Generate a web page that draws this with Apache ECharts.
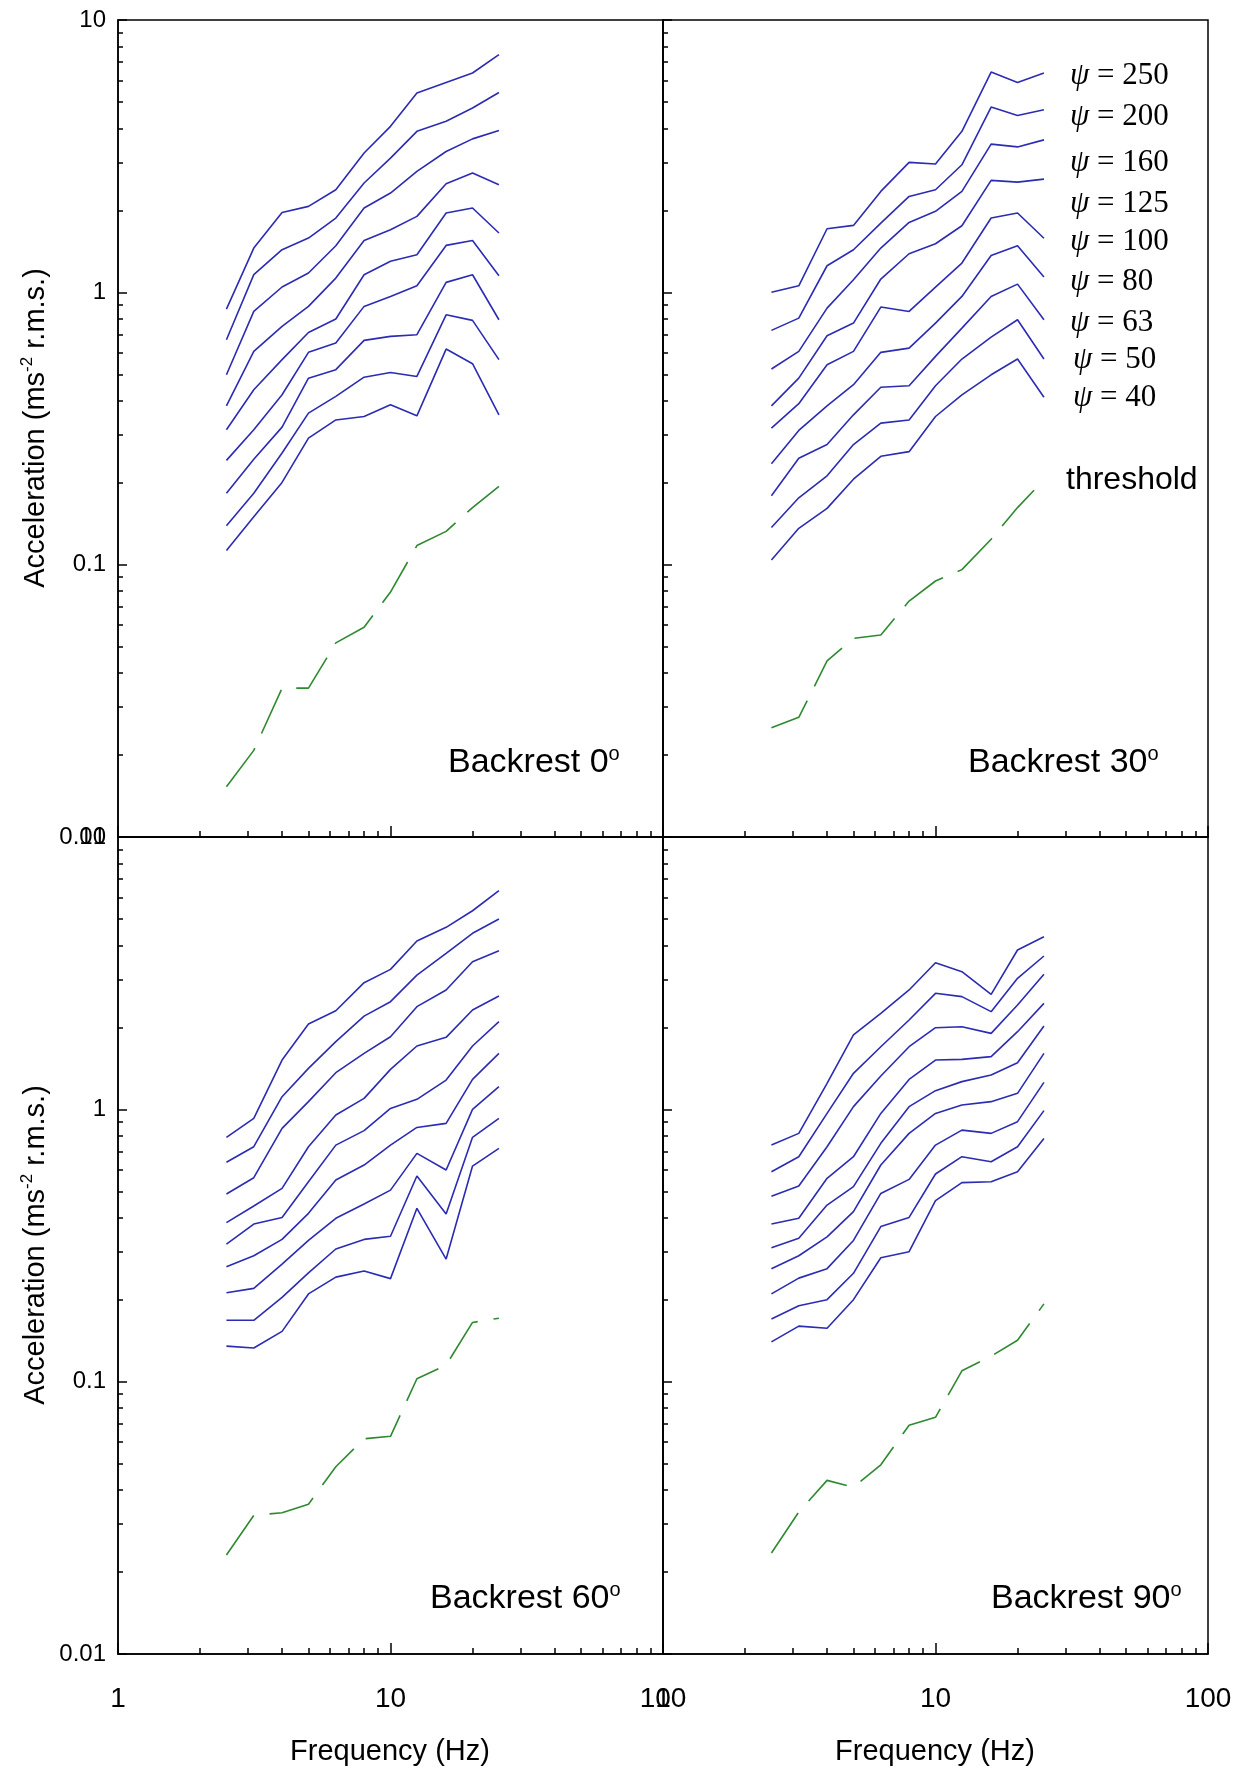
<!DOCTYPE html>
<html>
<head>
<meta charset="utf-8">
<script src="https://cdn.jsdelivr.net/npm/echarts@6/dist/echarts.min.js"></script>
<style>
  html, body { margin: 0; padding: 0; background: #ffffff; }
  #chart { width: 1249px; height: 1769px; }
</style>
</head>
<body>
<div id="chart"></div>
<script>
// One-third-octave centre frequencies (Hz)
const freqHz = [2.5, 3.15, 4, 5, 6.3, 8, 10, 12.5, 16, 20, 25];
// Equivalent-comfort contour levels, top curve first
const psiLevels = [250, 200, 160, 125, 100, 80, 63, 50, 40];

// Acceleration (m/s² r.m.s.) per contour, backrest 0°
const backrest0 = [
  [0.868, 1.454, 1.965, 2.068, 2.381, 3.248, 4.07, 5.39, 5.90, 6.39, 7.46],
  [0.670, 1.161, 1.434, 1.582, 1.874, 2.52, 3.11, 3.90, 4.25, 4.75, 5.42],
  [0.498, 0.851, 1.046, 1.177, 1.483, 2.04, 2.315, 2.78, 3.29, 3.66, 3.93],
  [0.383, 0.607, 0.750, 0.888, 1.128, 1.551, 1.698, 1.901, 2.506, 2.742, 2.485],
  [0.313, 0.439, 0.566, 0.712, 0.798, 1.16, 1.30, 1.374, 1.955, 2.04, 1.651],
  [0.2415, 0.313, 0.4205, 0.602, 0.651, 0.888, 0.966, 1.057, 1.487, 1.551, 1.151],
  [0.183, 0.244, 0.320, 0.484, 0.520, 0.666, 0.689, 0.699, 1.088, 1.16, 0.793],
  [0.139, 0.183, 0.257, 0.360, 0.415, 0.488, 0.508, 0.491, 0.827, 0.789, 0.566],
  [0.1128, 0.150, 0.2004, 0.2917, 0.340, 0.350, 0.3866, 0.352, 0.619, 0.547, 0.355]
];
// backrest 30°
const backrest30 = [
  [1.0, 1.057, 1.712, 1.761, 2.348, 3.0, 2.958, 3.90, 6.44, 5.90, 6.39],
  [0.725, 0.804, 1.252, 1.434, 1.796, 2.25, 2.38, 2.94, 4.79, 4.46, 4.68],
  [0.523, 0.607, 0.875, 1.112, 1.454, 1.806, 1.983, 2.348, 3.50, 3.42, 3.63],
  [0.383, 0.484, 0.693, 0.771, 1.119, 1.386, 1.508, 1.756, 2.576, 2.54, 2.605],
  [0.317, 0.390, 0.542, 0.607, 0.883, 0.851, 1.045, 1.281, 1.874, 1.955, 1.58],
  [0.2347, 0.311, 0.383, 0.458, 0.602, 0.624, 0.771, 0.966, 1.366, 1.483, 1.138],
  [0.179, 0.246, 0.276, 0.355, 0.448, 0.454, 0.582, 0.739, 0.966, 1.072, 0.793],
  [0.137, 0.176, 0.212, 0.276, 0.331, 0.340, 0.454, 0.569, 0.685, 0.793, 0.569],
  [0.104, 0.136, 0.161, 0.206, 0.250, 0.260, 0.350, 0.4205, 0.498, 0.569, 0.412]
];
// backrest 60°
const backrest60 = [
  [0.789, 0.927, 1.517, 2.057, 2.302, 2.918, 3.266, 4.15, 4.66, 5.36, 6.35],
  [0.639, 0.729, 1.113, 1.414, 1.772, 2.20, 2.485, 3.112, 3.74, 4.43, 5.0],
  [0.489, 0.561, 0.851, 1.067, 1.363, 1.605, 1.848, 2.382, 2.743, 3.485, 3.824],
  [0.3836, 0.4415, 0.5127, 0.729, 0.953, 1.097, 1.402, 1.708, 1.838, 2.316, 2.607],
  [0.32, 0.379, 0.401, 0.542, 0.739, 0.835, 1.008, 1.088, 1.281, 1.708, 2.098],
  [0.264, 0.29, 0.333, 0.415, 0.55, 0.6245, 0.739, 0.858, 0.888, 1.288, 1.605],
  [0.212, 0.22, 0.27, 0.33, 0.398, 0.449, 0.505, 0.689, 0.599, 1.0, 1.211],
  [0.168, 0.168, 0.204, 0.251, 0.307, 0.333, 0.342, 0.569, 0.4125, 0.789, 0.927],
  [0.135, 0.133, 0.153, 0.21, 0.242, 0.255, 0.239, 0.433, 0.282, 0.619, 0.719]
];
// backrest 90°
const backrest90 = [
  [0.739, 0.816, 1.246, 1.875, 2.252, 2.743, 3.455, 3.203, 2.645, 3.846, 4.305],
  [0.590, 0.670, 0.966, 1.356, 1.698, 2.128, 2.667, 2.593, 2.284, 3.027, 3.656],
  [0.480, 0.523, 0.729, 1.023, 1.325, 1.698, 1.994, 2.011, 1.901, 2.415, 3.131],
  [0.379, 0.398, 0.558, 0.670, 0.966, 1.288, 1.517, 1.526, 1.561, 1.928, 2.45],
  [0.31, 0.336, 0.445, 0.520, 0.750, 1.023, 1.171, 1.264, 1.337, 1.483, 2.023],
  [0.26, 0.29, 0.34, 0.421, 0.6245, 0.816, 0.966, 1.037, 1.067, 1.145, 1.605],
  [0.21, 0.24, 0.26, 0.33, 0.491, 0.553, 0.739, 0.839, 0.816, 0.901, 1.256],
  [0.17, 0.19, 0.20, 0.25, 0.371, 0.401, 0.579, 0.670, 0.642, 0.729, 0.989],
  [0.14, 0.16, 0.157, 0.20, 0.285, 0.30, 0.462, 0.538, 0.542, 0.590, 0.782]
];

// Perception thresholds per backrest angle
const threshold0 = [0.0153, 0.0208, 0.0352, 0.0352, 0.0516, 0.0589, 0.0793, 0.1175, 0.1325, 0.162, 0.1937];
const threshold30 = [0.0252, 0.0275, 0.0443, 0.0536, 0.0552, 0.0735, 0.0871, 0.0959, 0.124, 0.162, 0.205];
const threshold60 = [0.0231, 0.0323, 0.033, 0.0355, 0.0487, 0.0617, 0.063, 0.1025, 0.115, 0.165, 0.171];
const threshold90 = [0.0235, 0.0332, 0.0434, 0.041, 0.0495, 0.0692, 0.074, 0.1096, 0.124, 0.142, 0.193];

const backrestAngles = [0, 30, 60, 90];

// Tick positions on the logarithmic axes
const xMajorTicks = [1, 10, 100];
const xMinorTicks = [2, 3, 4, 5, 6, 7, 8, 9, 20, 30, 40, 50, 60, 70, 80, 90];
const yMajorTicks = [0.01, 0.1, 1, 10];
const yMinorTicks = [0.02, 0.03, 0.04, 0.05, 0.06, 0.07, 0.08, 0.09,
                     0.2, 0.3, 0.4, 0.5, 0.6, 0.7, 0.8, 0.9,
                     2, 3, 4, 5, 6, 7, 8, 9];

const panelContours = [backrest0, backrest30, backrest60, backrest90];
const panelThresholds = [threshold0, threshold30, threshold60, threshold90];

const SANS = "'Liberation Sans', Arial, Helvetica, sans-serif";
const SERIF = "'Liberation Serif', 'Times New Roman', serif";
const BLUE = '#2b2bb3';
const GREEN = '#2e8a2e';

const chart = echarts.init(document.getElementById('chart'), null, { renderer: 'canvas' });

const PANEL_W = 545, PANEL_H = 817;
const panelPos = [
  { left: 118, top: 20 }, { left: 663, top: 20 },
  { left: 118, top: 837 }, { left: 663, top: 837 }
];

const fmt = v => String(parseFloat(Number(v).toPrecision(6)));

const grid = panelPos.map(p => ({
  left: p.left, top: p.top, width: PANEL_W, height: PANEL_H,
  show: true, borderColor: '#000', borderWidth: 1.5, backgroundColor: 'transparent',
  containLabel: false, outerBoundsMode: 'none'
}));

// Each panel gets a major and a minor axis in both directions, all on the
// bottom / left edges, so ticks only point inward from those two sides.
const xAxis = [], yAxis = [];
panelPos.forEach((p, i) => {
  const isBottom = i >= 2;
  const isLeft = i % 2 === 0;
  const axisLine = { show: true, lineStyle: { color: '#000', width: 1.5 } };
  xAxis.push({
    type: 'log', logBase: 10, min: 1, max: 100, gridIndex: i, position: 'bottom',
    axisLine: axisLine,
    axisTick: { show: true, inside: true, length: 11, lineStyle: { color: '#000', width: 1.5 }, customValues: xMajorTicks },
    axisLabel: { show: isBottom, customValues: xMajorTicks, formatter: fmt, fontFamily: SANS, fontSize: 28, color: '#000', margin: 31 },
    splitLine: { show: false }, minorTick: { show: false }, minorSplitLine: { show: false }
  });
  xAxis.push({
    type: 'log', logBase: 10, min: 1, max: 100, gridIndex: i, position: 'bottom',
    axisLine: { show: false },
    axisTick: { show: true, inside: true, length: 6, lineStyle: { color: '#000', width: 1.5 }, customValues: xMinorTicks },
    axisLabel: { show: false },
    splitLine: { show: false }
  });
  yAxis.push({
    type: 'log', logBase: 10, min: 0.01, max: 10, gridIndex: i, position: 'left',
    axisLine: axisLine,
    axisTick: { show: true, inside: true, length: 9, lineStyle: { color: '#000', width: 1.5 }, customValues: yMajorTicks },
    axisLabel: { show: isLeft, customValues: yMajorTicks, formatter: fmt, fontFamily: SANS, fontSize: 24, color: '#000', margin: 12 },
    splitLine: { show: false }, minorTick: { show: false }, minorSplitLine: { show: false }
  });
  yAxis.push({
    type: 'log', logBase: 10, min: 0.01, max: 10, gridIndex: i, position: 'left',
    axisLine: { show: false },
    axisTick: { show: true, inside: true, length: 5, lineStyle: { color: '#000', width: 1.5 }, customValues: yMinorTicks },
    axisLabel: { show: false },
    splitLine: { show: false }
  });
});

const series = [];
panelContours.forEach((rows, i) => {
  rows.forEach((vals, k) => {
    series.push({
      name: 'psi ' + psiLevels[k] + ' / ' + backrestAngles[i],
      type: 'line', xAxisIndex: 2 * i, yAxisIndex: 2 * i,
      data: freqHz.map((f, j) => [f, vals[j]]),
      symbol: 'none', silent: true,
      lineStyle: { color: BLUE, width: 1.6 }
    });
  });
  series.push({
    name: 'threshold / ' + backrestAngles[i],
    type: 'line', xAxisIndex: 2 * i, yAxisIndex: 2 * i,
    data: freqHz.map((f, j) => [f, panelThresholds[i][j]]),
    symbol: 'none', silent: true,
    lineStyle: { color: GREEN, width: 1.6, type: [48, 16] }
  });
});

// Text: axis titles, panel captions, contour key
const graphic = [];
const yTitleRich = {
  a: { fontFamily: SANS, fontSize: 29, color: '#000', lineHeight: 34 },
  s: { fontFamily: SANS, fontSize: 17, color: '#000', verticalAlign: 'top', lineHeight: 34 }
};
[428, 1245].forEach(cy => {
  graphic.push({
    type: 'text', x: 36, y: cy, rotation: Math.PI / 2,
    style: { text: '{a|Acceleration (ms}{s|-2}{a| r.m.s.)}', rich: yTitleRich, align: 'center', verticalAlign: 'middle' }
  });
});
[390, 935].forEach(cx => {
  graphic.push({
    type: 'text', x: cx, y: 1752,
    style: { text: 'Frequency (Hz)', fontFamily: SANS, fontSize: 29, fill: '#000', align: 'center', verticalAlign: 'middle' }
  });
});

const captionPos = [[448, 763], [968, 763], [430, 1599], [991, 1599]];
const captionRich = {
  t: { fontFamily: SANS, fontSize: 34, color: '#000', lineHeight: 38 },
  d: { fontFamily: SANS, fontSize: 20, color: '#000', verticalAlign: 'top', lineHeight: 38 }
};
backrestAngles.forEach((ang, i) => {
  graphic.push({
    type: 'text', x: captionPos[i][0], y: captionPos[i][1],
    style: { text: '{t|Backrest ' + ang + '}{d|o}', rich: captionRich, align: 'left', verticalAlign: 'middle' }
  });
});

const keyRows = [76, 117, 163, 204, 242, 282, 323, 360, 398];
const keyRich = {
  p: { fontFamily: SERIF, fontSize: 31, fontStyle: 'italic', color: '#000' },
  e: { fontFamily: SERIF, fontSize: 31, color: '#000' }
};
psiLevels.forEach((lv, k) => {
  graphic.push({
    type: 'text', x: k >= 7 ? 1073 : 1070, y: keyRows[k],
    style: { text: '{p|\u03c8}{e| = ' + lv + '}', rich: keyRich, align: 'left', verticalAlign: 'middle' }
  });
});
graphic.push({
  type: 'text', x: 1066, y: 480,
  style: { text: 'threshold', fontFamily: SANS, fontSize: 32, fill: '#000', align: 'left', verticalAlign: 'middle' }
});

chart.setOption({
  animation: false,
  backgroundColor: '#ffffff',
  grid: grid,
  xAxis: xAxis,
  yAxis: yAxis,
  series: series,
  graphic: graphic
});
</script>
</body>
</html>
